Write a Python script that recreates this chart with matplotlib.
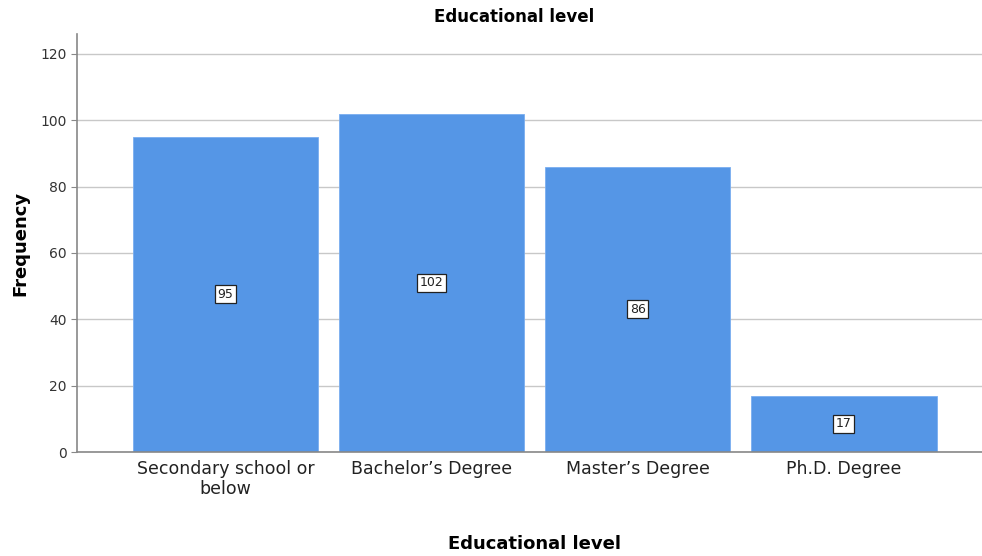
import matplotlib
matplotlib.use("Agg")
import matplotlib.pyplot as plt

categories = ["Secondary school or\nbelow", "Bachelor\u2019s Degree", "Master\u2019s Degree", "Ph.D. Degree"]
frequencies = [95, 102, 86, 17]
yticks = [0, 20, 40, 60, 80, 100, 120]

plt.rcParams['font.family'] = ['DejaVu Sans']

fig = plt.figure(figsize=(9.82, 5.56), dpi=100)
ax = fig.add_axes([77/982, 1-452/556, 1-77/982, (452-34)/556])

x = list(range(len(categories)))
ax.set_axisbelow(True)
ax.yaxis.grid(True, color="#c8c8c8", linewidth=1)
ax.bar(x, frequencies, width=0.9, color="#5596E6", edgecolor="#7aaef0", linewidth=0.6)
for xi, v in zip(x, frequencies):
    ax.text(xi, v/2, str(v), ha="center", va="center", fontsize=9, color="#222222",
            bbox=dict(boxstyle="square,pad=0.2", facecolor="white", edgecolor="#222222", linewidth=0.9))

ax.set_xlim(-0.72, 3.67)
ax.set_ylim(0, 126)
ax.set_yticks(yticks)
ax.set_xticks(x)
ax.set_xticklabels(categories, fontsize=12.5, linespacing=1.1, color="#222222")
ax.tick_params(axis="y", labelsize=10, length=4, color="#888888", labelcolor="#333333")
ax.tick_params(axis="x", length=0, pad=6)
for s in ["top", "right"]:
    ax.spines[s].set_visible(False)
for s in ["left", "bottom"]:
    ax.spines[s].set_color("#888888")
    ax.spines[s].set_linewidth(1.2)

fig.text(514/982, 1-17/556, "Educational level", ha="center", va="center", fontsize=12, fontweight="bold")
fig.text(535/982, 1-544/556, "Educational level", ha="center", va="center", fontsize=13, fontweight="bold")
fig.text(20/982, 1-243/556, "Frequency", ha="center", va="center", rotation=90, fontsize=13, fontweight="bold")

fig.savefig("out.png", dpi=100)
